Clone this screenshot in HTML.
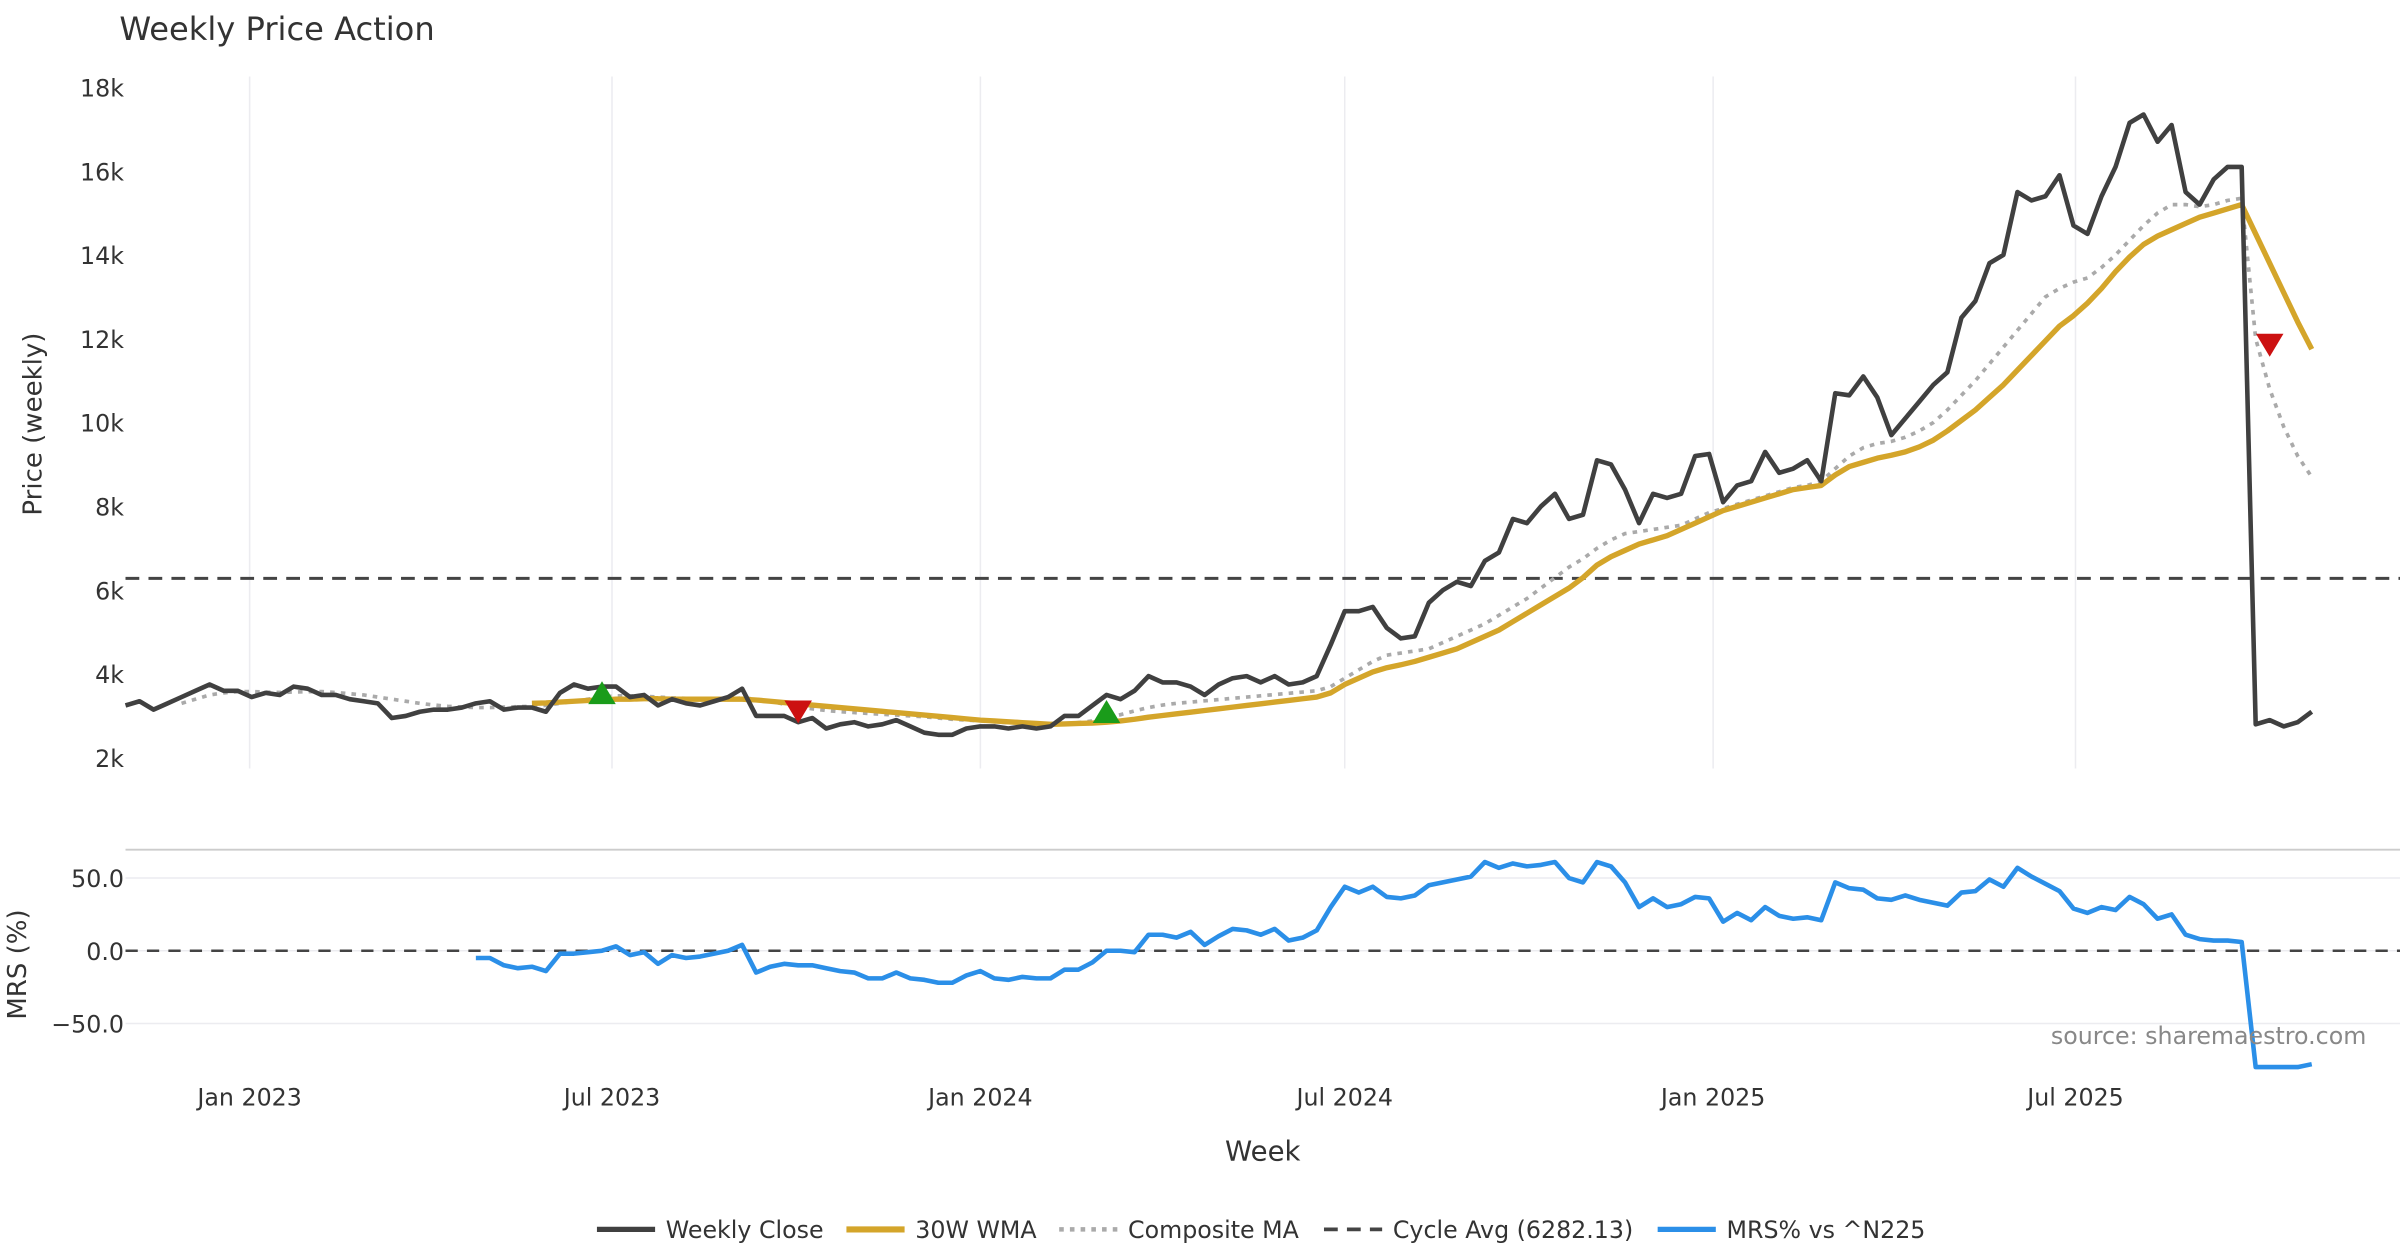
<!DOCTYPE html>
<html><head><meta charset="utf-8"><style>
html,body{margin:0;padding:0;background:#fff;}
svg{display:block;font-family:"DejaVu Sans","Liberation Sans",sans-serif;}
</style></head><body>
<svg id="chart" width="2400" height="1260" viewBox="0 0 1568 823" preserveAspectRatio="none" xmlns="http://www.w3.org/2000/svg">
<text x="78" y="26" font-size="21" fill="#333">Weekly Price Action</text>
<g id="grid"></g>
<g id="plots"></g>
<g id="axes"></g>
<text transform="translate(27,277) rotate(-90)" text-anchor="middle" font-size="17" fill="#333">Price (weekly)</text>
<text transform="translate(17,630) rotate(-90)" text-anchor="middle" font-size="17" fill="#333">MRS (%)</text>
<text x="825" y="758" text-anchor="middle" font-size="18" fill="#333">Week</text>
<text x="1546" y="682" text-anchor="end" font-size="15.5" fill="#888">source: sharemaestro.com</text>
<g id="legend"></g>
</svg>
<script>
const startDate = "2022-10-31";
const closes = [3250,3350,3150,3300,3450,3600,3750,3600,3600,3450,3550,3500,3700,3650,3500,3500,3400,3350,3300,2950,3000,3100,3150,3150,3200,3300,3350,3150,3200,3200,3100,3550,3750,3650,3700,3700,3450,3500,3250,3400,3300,3250,3350,3450,3650,3000,3000,3000,2850,2950,2700,2800,2850,2750,2800,2900,2750,2600,2550,2550,2700,2750,2750,2700,2750,2700,2750,3000,3000,3250,3500,3400,3600,3950,3800,3800,3700,3500,3750,3900,3950,3800,3950,3750,3800,3950,4700,5500,5500,5600,5100,4850,4900,5700,6000,6200,6100,6700,6900,7700,7600,8000,8300,7700,7800,9100,9000,8400,7600,8300,8200,8300,9200,9250,8100,8500,8600,9300,8800,8900,9100,8600,10700,10650,11100,10600,9700,10100,10500,10900,11200,12500,12900,13800,14000,15500,15300,15400,15900,14700,14500,15400,16100,17150,17350,16700,17100,15500,15200,15800,16100,16100,2800,2900,2750,2850,3100];
const wmaStart = 29;
const wma = [3300,3310,3330,3350,3370,3380,3400,3400,3410,3410,3400,3400,3400,3400,3400,3400,3380,3350,3320,3290,3260,3230,3200,3170,3140,3110,3080,3050,3020,2990,2960,2930,2900,2880,2860,2840,2820,2800,2810,2820,2830,2850,2880,2920,2970,3010,3050,3090,3130,3170,3210,3250,3290,3330,3370,3410,3450,3550,3750,3900,4050,4150,4220,4300,4400,4500,4600,4750,4900,5050,5250,5450,5650,5850,6050,6300,6600,6800,6950,7100,7200,7300,7450,7600,7750,7900,8000,8100,8200,8300,8400,8450,8500,8750,8950,9050,9150,9220,9300,9420,9580,9800,10050,10300,10600,10900,11250,11600,11950,12300,12550,12850,13200,13600,13950,14250,14450,14600,14750,14900,15000,15100,15200,14500,13800,13100,12400,11750];
const compStart = 4;
const composite = [3300,3400,3500,3550,3580,3580,3570,3560,3570,3580,3580,3560,3530,3500,3450,3400,3350,3300,3260,3230,3210,3200,3200,3210,3220,3230,3250,3300,3350,3400,3450,3480,3480,3470,3450,3430,3420,3400,3400,3410,3430,3400,3350,3280,3220,3170,3130,3100,3080,3060,3040,3020,3000,2980,2950,2920,2900,2880,2860,2840,2830,2820,2810,2820,2840,2880,2950,3030,3120,3200,3260,3300,3330,3360,3390,3420,3450,3480,3510,3540,3570,3600,3700,3900,4100,4300,4450,4500,4550,4600,4750,4900,5050,5200,5400,5600,5800,6050,6300,6550,6750,7000,7200,7350,7400,7450,7500,7550,7700,7850,7950,8050,8150,8250,8350,8450,8500,8600,8900,9200,9400,9500,9550,9650,9800,10000,10300,10650,11000,11400,11800,12200,12600,13000,13200,13350,13450,13700,14000,14350,14700,15000,15200,15200,15150,15200,15300,15350,12000,10800,9900,9200,8700];
const mrsStart = 25;
const mrs = [-5,-5,-10,-12,-11,-14,-2,-2,-1,0,3,-3,-1,-9,-3,-5,-4,-2,0,4,-15,-11,-9,-10,-10,-12,-14,-15,-19,-19,-15,-19,-20,-22,-22,-17,-14,-19,-20,-18,-19,-19,-13,-13,-8,0,0,-1,11,11,9,13,4,10,15,14,11,15,7,9,14,30,44,40,44,37,36,38,45,47,49,51,61,57,60,58,59,61,50,47,61,58,47,30,36,30,32,37,36,20,26,21,30,24,22,23,21,47,43,42,36,35,38,35,33,31,40,41,49,44,57,51,46,41,29,26,30,28,37,32,22,25,11,8,7,7,6,-80,-80,-80,-80,-78];
const cycleAvg = 6282.13;
const buyIdx = [34,70];
const buyVals = [3500,3050];
const sellIdx = [48,153];
const sellVals = [3150,11900];
const priceTicks = [2000,4000,6000,8000,10000,12000,14000,16000,18000];
const priceTickLabels = ["2k","4k","6k","8k","10k","12k","14k","16k","18k"];
const mrsTicks = [50,0,-50];
const mrsTickLabels = ["50.0","0.0","\u221250.0"];
const dateTicks = ["2023-01-01","2023-07-01","2024-01-01","2024-07-01","2025-01-01","2025-07-01"];
const dateTickLabels = ["Jan 2023","Jul 2023","Jan 2024","Jul 2024","Jan 2025","Jul 2025"];

const NS="http://www.w3.org/2000/svg";
const DAY=86400000, t0=Date.parse(startDate);
const PXDAY=1.308, X0=82;
function xDate(s){return X0+(Date.parse(s)-t0)/DAY*PXDAY;}
function xIdx(i){return X0+i*7*PXDAY;}
function yP(v){return 495-(v-2000)/16000*438;}
function yM(v){return 621-v*0.95;}
function mk(tag,attrs,parent){const e=document.createElementNS(NS,tag);for(const k in attrs)e.setAttribute(k,attrs[k]);parent.appendChild(e);return e;}
const grid=document.getElementById('grid'),plots=document.getElementById('plots'),axes=document.getElementById('axes'),legend=document.getElementById('legend');

dateTicks.forEach((d,k)=>{
  const x=xDate(d);
  let l=mk('line',{x1:x,x2:x,y1:50,y2:502,stroke:'#ececf0','stroke-width':1},grid);
  
  
  let t=mk('text',{x:x,y:722,'text-anchor':'middle','font-size':15.5,fill:'#333'},axes);
  t.textContent=dateTickLabels[k];
  
  
});
priceTicks.forEach((v,k)=>{
  let t=mk('text',{x:81,y:yP(v)+6,'text-anchor':'end','font-size':15.5,fill:'#333'},axes);
  t.textContent=priceTickLabels[k];
  
  
});
mrsTicks.forEach((v,k)=>{
  let l=mk('line',{x1:82,x2:1568,y1:yM(v),y2:yM(v),stroke:'#ececf0','stroke-width':1},grid);
  
  
  let t=mk('text',{x:81,y:yM(v)+6,'text-anchor':'end','font-size':15.5,fill:'#333'},axes);
  t.textContent=mrsTickLabels[k];
  
  
});
let sep=mk('line',{x1:82,x2:1568,y1:555,y2:555,stroke:'#ccc','stroke-width':1.2},grid);



function path(vals,start,yf,attrs,name){
  const d=vals.map((v,j)=>(j?'L':'M')+xIdx(start+j).toFixed(2)+','+yf(v).toFixed(2)).join(' ');
  const p=mk('path',Object.assign({d:d,fill:'none','stroke-linejoin':'round'},attrs),plots);
  
  
}
let ca=mk('line',{x1:82,x2:1568,y1:yP(cycleAvg),y2:yP(cycleAvg),stroke:'#444','stroke-width':2,'stroke-dasharray':'9,6'},plots);


let z=mk('line',{x1:82,x2:1568,y1:yM(0),y2:yM(0),stroke:'#444','stroke-width':1.6,'stroke-dasharray':'8,6'},plots);


path(composite,compStart,yP,{stroke:'#aaa','stroke-width':2.4,'stroke-dasharray':'3,4'},'composite-ma-line');
path(wma,wmaStart,yP,{stroke:'#d4a52a','stroke-width':3.5},'wma-line');
path(closes,0,yP,{stroke:'#404040','stroke-width':3},'weekly-close-line');
path(mrs,mrsStart,yM,{stroke:'#2b8fe8','stroke-width':3},'mrs-line');
buyIdx.forEach((i,k)=>{
  const x=xIdx(i),y=yP(buyVals[k]);
  let p=mk('polygon',{points:`${x-9},${y+6} ${x+9},${y+6} ${x},${y-9}`,fill:'#1a9c1a'},plots);
  
  
});
sellIdx.forEach((i,k)=>{
  const x=xIdx(i),y=yP(sellVals[k]);
  let p=mk('polygon',{points:`${x-9},${y-6} ${x+9},${y-6} ${x},${y+9}`,fill:'#cc1111'},plots);
  
  
});
const legendItems=[["Weekly Close","#404040","",3,390],["30W WMA","#d4a52a","",3.5,553],["Composite MA","#aaa","3,4",2.4,692],["Cycle Avg (6282.13)","#444","9,6",2,865],["MRS% vs ^N225","#2b8fe8","",3,1083]];
legendItems.forEach(it=>{
  const g=mk('g',{},legend);
  
  
  mk('line',{x1:it[4],x2:it[4]+38,y1:803,y2:803,stroke:it[1],'stroke-width':it[3]+0.5,'stroke-dasharray':it[2]},g);
  const t=mk('text',{x:it[4]+45,y:808.5,'font-size':15.5,fill:'#333'},g);
  t.textContent=it[0];
});
</script>
</body></html>
